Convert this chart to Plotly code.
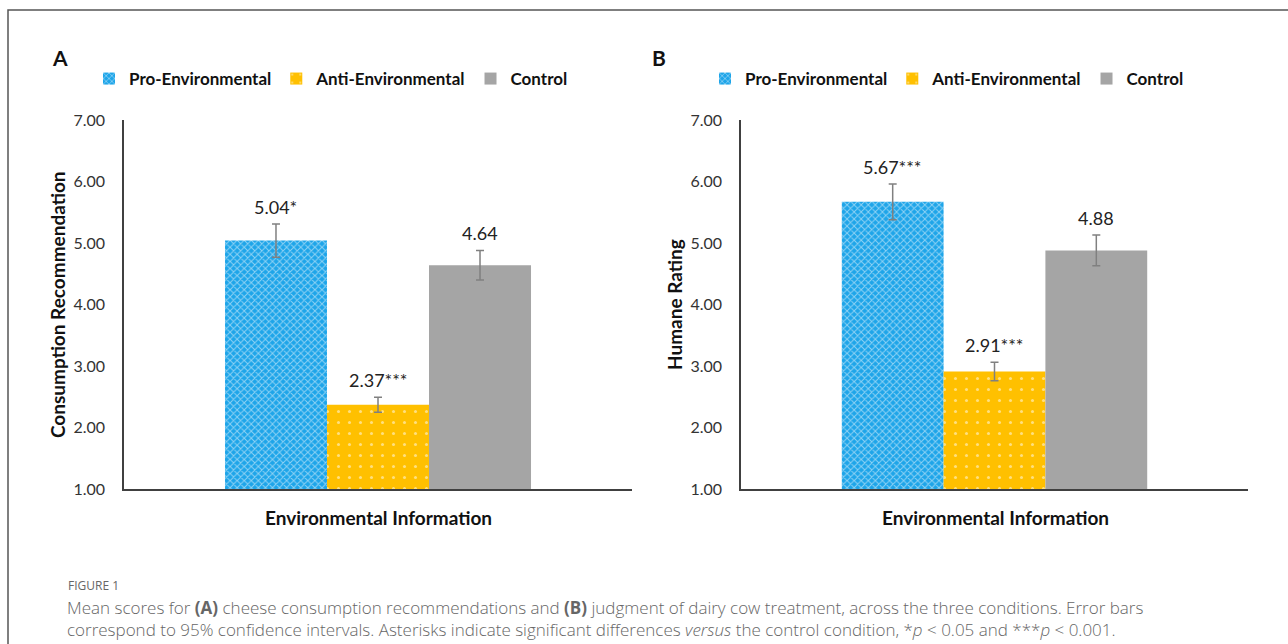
import plotly.graph_objects as go

W, H = 1288, 644

conditions = ["Pro-Environmental", "Anti-Environmental", "Control"]
colors = ["#1ea5e9", "#ffc000", "#a5a5a5"]
# Panel A: consumption recommendation
means_a = [5.04, 2.37, 4.64]
ci_a = [0.27, 0.12, 0.24]
labels_a = ["5.04*", "2.37***", "4.64"]
# Panel B: humane rating
means_b = [5.67, 2.91, 4.88]
ci_b = [0.29, 0.15, 0.25]
labels_b = ["5.67***", "2.91***", "4.88"]

y_ticks = [1, 2, 3, 4, 5, 6, 7]
y_ticktext = ["%.2f" % v for v in y_ticks]

patterns = [
    dict(shape="x", fgcolor="white", size=5, solidity=0.35),
    dict(shape=".", fgcolor="white", size=11, solidity=0.06),
    dict(shape=""),
]

FONT = "Lato"
fig = go.Figure()

def px_x(p):
    return p / W

def px_y(p):
    return (H - p) / H

panels = [
    ("x", "y", "legend", means_a, ci_a, labels_a),
    ("x2", "y2", "legend2", means_b, ci_b, labels_b),
]
for xa, ya, lg, means, ci, labels in panels:
    for i, (name, m, e, c, pat) in enumerate(zip(conditions, means, ci, colors, patterns)):
        fig.add_trace(go.Bar(
            x=[i], y=[m - 1], base=[1], width=[1], name=name,
            marker=dict(color=c, line=dict(width=0), pattern=pat),
            error_y=dict(type="data", array=[e], color="#808080", thickness=1.5, width=4),
            xaxis=xa, yaxis=ya, legend=lg, showlegend=True,
            hoverinfo="skip",
        ))
        fig.add_annotation(
            x=i, y=m + e, xref=xa, yref=ya, text=labels[i], showarrow=False,
            xanchor="center", yanchor="bottom", yshift=4,
            font=dict(family=FONT, size=18, color="#222"),
        )

axis_common = dict(showgrid=False, zeroline=False, showline=True, linecolor="#404040", linewidth=1.5,
                   automargin=False)
fig.update_layout(
    width=W, height=H, autosize=False,
    margin=dict(l=0, r=0, t=0, b=0, pad=0, autoexpand=False),
    paper_bgcolor="white", plot_bgcolor="white",
    barmode="overlay",
    xaxis=dict(domain=[px_x(124), px_x(632)], range=[-1.49, 3.49], showticklabels=False, ticks="", **axis_common),
    xaxis2=dict(domain=[px_x(741), px_x(1248)], range=[-1.49, 3.49], showticklabels=False, ticks="",
                anchor="y2", **axis_common),
    yaxis=dict(domain=[px_y(489), px_y(120)], range=[1, 7], tickvals=y_ticks, ticktext=y_ticktext,
               ticks="outside", ticklen=14, tickcolor="rgba(0,0,0,0)",
               tickfont=dict(family=FONT, size=16, color="#333"), **axis_common),
    yaxis2=dict(domain=[px_y(489), px_y(120)], range=[1, 7], tickvals=y_ticks, ticktext=y_ticktext,
                ticks="outside", ticklen=14, tickcolor="rgba(0,0,0,0)", anchor="x2",
                tickfont=dict(family=FONT, size=16, color="#333"), **axis_common),
    legend=dict(orientation="h", x=px_x(131 - 42), y=px_y(79), xanchor="left", yanchor="middle",
                font=dict(family=FONT, size=17, color="#111", weight="bold"), bgcolor="rgba(0,0,0,0)",
                itemclick=False, traceorder="normal"),
    legend2=dict(orientation="h", x=px_x(747 - 42), y=px_y(79), xanchor="left", yanchor="middle",
                 font=dict(family=FONT, size=17, color="#111", weight="bold"), bgcolor="rgba(0,0,0,0)",
                 itemclick=False, traceorder="normal"),
    showlegend=True,
)

# axis titles and panel letters
for x, txt in [(378, "Environmental Information"), (995, "Environmental Information")]:
    fig.add_annotation(x=px_x(x), y=px_y(517), xref="paper", yref="paper", text="<b>%s</b>" % txt,
                       xanchor="center", yanchor="middle",
                       showarrow=False, font=dict(family=FONT, size=19, color="#111"))
for x, txt in [(57, "Consumption Recommendation"), (674, "Humane Rating")]:
    fig.add_annotation(x=px_x(x), y=px_y(305), xref="paper", yref="paper", text="<b>%s</b>" % txt,
                       xanchor="center", yanchor="middle",
                       textangle=-90, showarrow=False, font=dict(family=FONT, size=19, color="#111"))
for x, txt in [(60, "A"), (659, "B")]:
    fig.add_annotation(x=px_x(x), y=px_y(57), xref="paper", yref="paper", text="<b>%s</b>" % txt,
                       xanchor="center", yanchor="middle",
                       showarrow=False, font=dict(family=FONT, size=21, color="#111"))

# caption
fig.add_annotation(x=px_x(67), y=px_y(585), xref="paper", yref="paper", xanchor="left", yanchor="middle",
                   text="FIGURE 1", showarrow=False, borderpad=0,
                   font=dict(family="Open Sans", size=12, color="#666"))
caption = ("Mean scores for <b>(A)</b> cheese consumption recommendations and <b>(B)</b> judgment of dairy cow treatment, "
           "across the three conditions. Error bars<br>correspond to 95% confidence intervals. Asterisks indicate "
           "significant differences <i>versus</i> the control condition, *<i>p</i> &lt; 0.05 and ***<i>p</i> &lt; 0.001.")
fig.add_annotation(x=px_x(66), y=px_y(595), xref="paper", yref="paper", xanchor="left", yanchor="top",
                   align="left", text=caption, showarrow=False, borderpad=0,
                   font=dict(family="Open Sans", size=17, color="#666", weight=300))

# outer frame
fig.add_shape(type="rect", xref="paper", yref="paper", x0=px_x(8), x1=1.05, y0=-0.05, y1=px_y(10),
              line=dict(color="#555", width=1.5), fillcolor="rgba(0,0,0,0)", layer="below")

fig.write_html("out.html", config={"displayModeBar": False},
               post_script="document.body.style.margin='0';")
